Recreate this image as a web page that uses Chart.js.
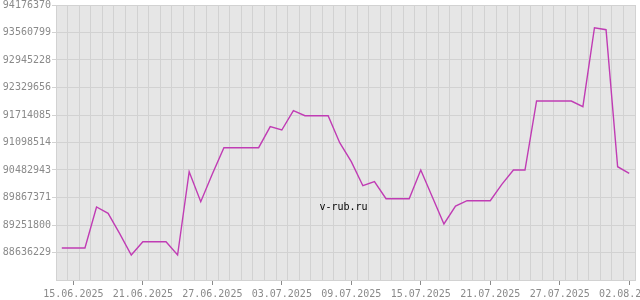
<!DOCTYPE html>
<html>
<head>
<meta charset="utf-8">
<script src="https://cdn.jsdelivr.net/npm/chart.js@4/dist/chart.umd.min.js"></script>
<style>
html,body{margin:0;padding:0;background:#fff;}
canvas{display:block;}
</style>
</head>
<body>
<canvas id="c" width="640" height="300"></canvas>
<script>
const dates = [
 '14.06.2025','15.06.2025','16.06.2025','17.06.2025','18.06.2025','19.06.2025','20.06.2025',
 '21.06.2025','22.06.2025','23.06.2025','24.06.2025','25.06.2025','26.06.2025','27.06.2025',
 '28.06.2025','29.06.2025','30.06.2025','01.07.2025','02.07.2025','03.07.2025','04.07.2025',
 '05.07.2025','06.07.2025','07.07.2025','08.07.2025','09.07.2025','10.07.2025','11.07.2025',
 '12.07.2025','13.07.2025','14.07.2025','15.07.2025','16.07.2025','17.07.2025','18.07.2025',
 '19.07.2025','20.07.2025','21.07.2025','22.07.2025','23.07.2025','24.07.2025','25.07.2025',
 '26.07.2025','27.07.2025','28.07.2025','29.07.2025','30.07.2025','31.07.2025','01.08.2025',
 '02.08.2025'
];
const values = [
 88736961, 88736961, 88736961, 89654721, 89513699, 89057058, 88580270,
 88877983, 88877983, 88877983, 88580270, 90444891, 89773359, 90393406,
 90982116, 90982116, 90982116, 90982116, 91452189, 91378320, 91810339,
 91698417, 91698417, 91698417, 91094038, 90668735, 90131509, 90221047,
 89840512, 89840512, 89840512, 90482944, 89878565, 89274186, 89677106,
 89795743, 89795743, 89795743, 90162847, 90482944, 90482944, 92027468,
 92027468, 92027468, 92027468, 91899877, 93668244, 93623475, 90556813,
 90409075
];
const xTickLabels = ['15.06.2025','21.06.2025','27.06.2025','03.07.2025','09.07.2025','15.07.2025','21.07.2025','27.07.2025','02.08.2025'];
const yTicks = [88020658, 88636229, 89251800, 89867371, 90482943, 91098514, 91714085, 92329656, 92945228, 93560799, 94176370];
const watermark = 'v-rub.ru';

const GRID = '#d2d2d2';
const TEXT = '#8a8a8a';
const FONT = {family: '"DejaVu Sans Mono", monospace', size: 10};

const bgPlugin = {
  id: 'bg',
  beforeDraw(chart) {
    const {ctx, chartArea: a} = chart;
    ctx.save();
    ctx.fillStyle = '#e6e6e6';
    ctx.fillRect(a.left, a.top, a.right - a.left, a.bottom - a.top);
    ctx.restore();
  },
  afterDatasetsDraw(chart) {
    const {ctx, chartArea: a} = chart;
    ctx.save();
    ctx.fillStyle = '#000';
    ctx.font = '10px "DejaVu Sans Mono", monospace';
    ctx.textAlign = 'center';
    ctx.textBaseline = 'middle';
    ctx.fillText(watermark, (a.left + a.right) / 2 - 2, a.top + (a.bottom - a.top) * 0.735);
    ctx.restore();
  }
};

new Chart(document.getElementById('c'), {
  type: 'line',
  data: {
    labels: dates,
    datasets: [{
      data: values,
      borderColor: '#c03cb4',
      borderWidth: 1.4,
      pointRadius: 0,
      tension: 0,
      fill: false
    }]
  },
  options: {
    responsive: false,
    animation: false,
    events: [],
    layout: {padding: {top: 5, right: 5, left: 0, bottom: 0}},
    plugins: {legend: {display: false}, tooltip: {enabled: false}},
    scales: {
      x: {
        type: 'category',
        position: 'bottom',
        offset: true,
        grid: {offset: true, color: GRID, lineWidth: 1, drawTicks: false},
        border: {display: true, color: GRID},
        ticks: {display: false}
      },
      x2: {
        type: 'category',
        position: 'bottom',
        labels: dates,
        offset: true,
        grid: {offset: false, drawOnChartArea: false, drawTicks: true, tickLength: 5, color: TEXT},
        border: {display: false},
        ticks: {
          autoSkip: false, maxRotation: 0, minRotation: 0, padding: 3,
          color: TEXT, font: FONT,
          callback: function(v, i) {
            const l = this.getLabelForValue(v);
            return xTickLabels.includes(l) ? l : null;
          }
        },
        afterFit(s) { s.paddingLeft = 0; s.paddingRight = 0; s.height = 20; }
      },
      y: {
        type: 'linear',
        min: yTicks[0],
        max: yTicks[yTicks.length - 1],
        grid: {color: GRID, drawTicks: true, tickLength: 4},
        border: {display: true, color: GRID},
        afterBuildTicks(s) { s.ticks = yTicks.map(v => ({value: v})); },
        ticks: {
          color: TEXT, font: FONT, padding: 1,
          callback: (v) => v === yTicks[0] ? null : String(Math.round(v))
        },
        afterFit(s) { s.width = 56; s.paddingTop = 0; s.paddingBottom = 0; }
      }
    }
  },
  plugins: [bgPlugin]
});
</script>
</body>
</html>
